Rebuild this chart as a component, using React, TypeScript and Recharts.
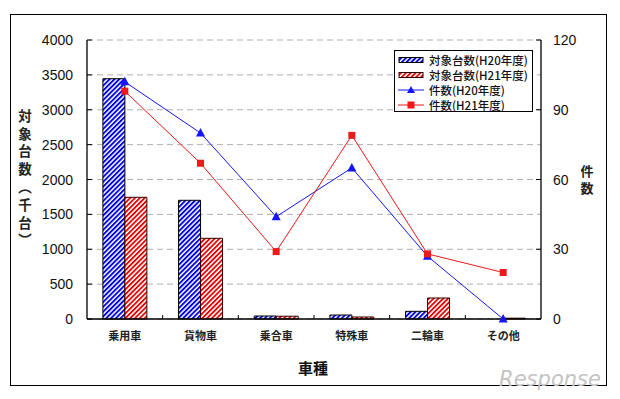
import {
  ComposedChart,
  Bar,
  Line,
  XAxis,
  YAxis,
  CartesianGrid,
} from 'recharts';

// Vehicle categories and the two fiscal years (H20 / H21)
const categories = ['乗用車', '貨物車', '乗合車', '特殊車', '二輪車', 'その他'];
const unitsH20 = [3445, 1702, 43, 57, 110, 0];
const unitsH21 = [1745, 1157, 40, 29, 301, 12];
const casesH20 = [102, 80, 44, 65, 27, 0];
const casesH21 = [98, 67, 29, 79, 28, 20];
const leftTicks = [0, 500, 1000, 1500, 2000, 2500, 3000, 3500, 4000];
const rightTicks = [0, 30, 60, 90, 120];

const data = categories.map((name, i) => ({
  name,
  unitsH20: unitsH20[i],
  unitsH21: unitsH21[i],
  casesH20: casesH20[i],
  casesH21: casesH21[i],
}));

const W = 620;
const H = 399;
const BLUE = '#1414ff';
const RED = '#f01818';
const NUM_FONT = '"Liberation Sans", Arial, sans-serif';
const JP_FONT = '"Noto Sans CJK JP", sans-serif';
const BAND = (541 - 87) / categories.length;

const LeftTick = (props: any) => {
  const { x, y, payload } = props;
  const axisX = x + 14;
  return (
    <g>
      <line x1={axisX} x2={axisX + 5} y1={y} y2={y} stroke="#000" strokeWidth={1} />
      <text x={x} y={y} dy="0.36em" textAnchor="end" fontSize={14} fontFamily={NUM_FONT} fill="#111">
        {payload.value}
      </text>
    </g>
  );
};

const RightTick = (props: any) => {
  const { x, y, payload } = props;
  const axisX = x - 12;
  return (
    <g>
      <line x1={axisX - 5} x2={axisX} y1={y} y2={y} stroke="#000" strokeWidth={1} />
      <text x={x} y={y} dy="0.36em" textAnchor="start" fontSize={14} fontFamily={NUM_FONT} fill="#111">
        {payload.value}
      </text>
    </g>
  );
};

const CategoryTick = (props: any) => {
  const { x, y, payload, index } = props;
  const axisY = y - 12;
  const bx = x - BAND / 2;
  return (
    <g>
      {index > 0 && (
        <line x1={bx} x2={bx} y1={axisY - 4} y2={axisY} stroke="#000" strokeWidth={1} />
      )}
      <text x={x} y={y} dy="0.8em" textAnchor="middle" fontSize={11} fontWeight={700} fontFamily={JP_FONT} fill="#222">
        {payload.value}
      </text>
    </g>
  );
};

const TriangleDot = (props: any) => {
  const { cx, cy, index } = props;
  if (cx == null || cy == null) return <g key={index} />;
  return (
    <polygon
      key={index}
      points={`${cx},${cy - 5} ${cx - 4.5},${cy + 3.5} ${cx + 4.5},${cy + 3.5}`}
      fill={BLUE}
    />
  );
};

const SquareDot = (props: any) => {
  const { cx, cy, index } = props;
  if (cx == null || cy == null) return <g key={index} />;
  return <rect key={index} x={cx - 3.5} y={cy - 3.5} width={7} height={7} fill={RED} />;
};

const legendItems = [
  { label: '対象台数(H20年度)', kind: 'bar', fill: 'url(#hatchBlue)', stroke: '#000' },
  { label: '対象台数(H21年度)', kind: 'bar', fill: 'url(#hatchRed)', stroke: '#300' },
  { label: '件数(H20年度)', kind: 'tri', color: BLUE },
  { label: '件数(H21年度)', kind: 'sq', color: RED },
];

function LegendBox() {
  return (
    <div
      style={{
        position: 'absolute',
        left: 394,
        top: 50,
        width: 139,
        height: 62,
        background: '#fff',
        border: '1px solid #000',
        boxSizing: 'border-box',
        padding: '1px 0 0 3px',
      }}
    >
      {legendItems.map((item) => (
        <div key={item.label} style={{ display: 'flex', alignItems: 'center', height: 15 }}>
          <svg width={28} height={10} style={{ marginRight: 3 }}>
            {item.kind === 'bar' && (
              <rect x={1} y={2.5} width={24} height={5} fill={item.fill} stroke={item.stroke} strokeWidth={1} />
            )}
            {item.kind !== 'bar' && (
              <line x1={0} x2={26} y1={5} y2={5} stroke={item.color} strokeWidth={1} />
            )}
            {item.kind === 'tri' && <polygon points="13,1 9,8 17,8" fill={item.color} />}
            {item.kind === 'sq' && <rect x={9.5} y={1.5} width={7} height={7} fill={item.color} />}
          </svg>
          <span style={{ fontFamily: JP_FONT, fontSize: 11.5, fontWeight: 500, color: '#111', whiteSpace: 'nowrap' }}>
            {item.label}
          </span>
        </div>
      ))}
    </div>
  );
}

const leftTitle = '対象台数（千台）';
const rightTitle = '件数';

export default function App() {
  return (
    <div style={{ position: 'absolute', left: 0, top: 0, width: W, height: H, background: '#fff' }}>
      <svg width={0} height={0} style={{ position: 'absolute' }}>
        <defs>
          <pattern id="hatchBlue" width={3.4} height={3.4} patternUnits="userSpaceOnUse" patternTransform="rotate(45)">
            <rect width={3.4} height={3.4} fill="#fff" />
            <rect width={1.9} height={3.4} fill="#0000e6" />
          </pattern>
          <pattern id="hatchRed" width={3.4} height={3.4} patternUnits="userSpaceOnUse" patternTransform="rotate(45)">
            <rect width={3.4} height={3.4} fill="#fff" />
            <rect width={1.8} height={3.4} fill="#e60000" />
          </pattern>
        </defs>
      </svg>

      <div
        style={{
          position: 'absolute',
          left: 10,
          top: 14,
          width: 597,
          height: 372,
          border: '1.5px solid #000',
          boxSizing: 'border-box',
        }}
      />

      <div style={{ position: 'absolute', left: 0, top: 0 }}>
        <ComposedChart
          width={W}
          height={H}
          data={data}
          margin={{ top: 40, right: 29, bottom: 50, left: 27 }}
          barCategoryGap="21%"
          barGap={0}
        >
          <CartesianGrid yAxisId="left" vertical={false} stroke="#b0b0b0" strokeDasharray="6 4" />
          <XAxis
            dataKey="name"
            height={30}
            tickSize={0}
            tickMargin={12}
            tick={<CategoryTick />}
            tickLine={false}
            axisLine={{ stroke: '#000', strokeWidth: 1.3 }}
            interval={0}
          />
          <XAxis
            xAxisId="top"
            dataKey="name"
            orientation="top"
            height={0}
            tick={false}
            tickLine={false}
            axisLine={{ stroke: '#000', strokeWidth: 1.3 }}
          />
          <YAxis
            yAxisId="left"
            width={60}
            domain={[0, 4000]}
            ticks={leftTicks}
            tickSize={0}
            tickMargin={14}
            tick={<LeftTick />}
            tickLine={false}
            axisLine={{ stroke: '#000', strokeWidth: 1.3 }}
            interval={0}
          />
          <YAxis
            yAxisId="right"
            orientation="right"
            width={50}
            domain={[0, 120]}
            ticks={rightTicks}
            tickSize={0}
            tickMargin={12}
            tick={<RightTick />}
            tickLine={false}
            axisLine={{ stroke: '#000', strokeWidth: 1.3 }}
            interval={0}
          />
          <Bar
            yAxisId="left"
            dataKey="unitsH20"
            fill="url(#hatchBlue)"
            stroke="#000"
            strokeWidth={1}
            isAnimationActive={false}
          />
          <Bar
            yAxisId="left"
            dataKey="unitsH21"
            fill="url(#hatchRed)"
            stroke="#300"
            strokeWidth={1}
            isAnimationActive={false}
          />
          <Line
            yAxisId="right"
            type="linear"
            dataKey="casesH20"
            stroke={BLUE}
            strokeWidth={1}
            dot={<TriangleDot />}
            activeDot={false}
            isAnimationActive={false}
          />
          <Line
            yAxisId="right"
            type="linear"
            dataKey="casesH21"
            stroke={RED}
            strokeWidth={1}
            dot={<SquareDot />}
            activeDot={false}
            isAnimationActive={false}
          />
        </ComposedChart>
      </div>

      <LegendBox />

      <svg width={W} height={H} style={{ position: 'absolute', left: 0, top: 0, pointerEvents: 'none' }}>
        <text
          x={25}
          y={109}
          fontFamily={JP_FONT}
          fontSize={13.5}
          fontWeight={700}
          fill="#222"
          letterSpacing={4.3}
          style={{ writingMode: 'vertical-rl' }}
        >
          {leftTitle}
        </text>
        <text
          x={587}
          y={165}
          fontFamily={JP_FONT}
          fontSize={13}
          fontWeight={700}
          fill="#222"
          letterSpacing={3.5}
          style={{ writingMode: 'vertical-rl' }}
        >
          {rightTitle}
        </text>
        <text x={313} y={374} textAnchor="middle" fontFamily={JP_FONT} fontSize={15} fontWeight={700} fill="#111">
          車種
        </text>
        <text
          x={550}
          y={386}
          textAnchor="middle"
          fontFamily='"DejaVu Sans", sans-serif'
          fontSize={21}
          fontStyle="italic"
          fill="#c4c4c4"
        >
          Response
        </text>
      </svg>
    </div>
  );
}
